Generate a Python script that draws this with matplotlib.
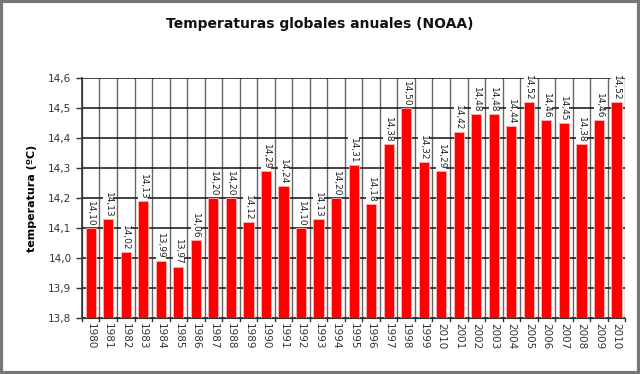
import matplotlib
matplotlib.use("Agg")
import matplotlib.pyplot as plt
from matplotlib.patches import Rectangle
import numpy as np

years = ["1980", "1981", "1982", "1983", "1984", "1985", "1986", "1987", "1988", "1989",
         "1990", "1991", "1992", "1993", "1994", "1995", "1996", "1997", "1998", "1999",
         "2010", "2001", "2002", "2003", "2004", "2005", "2006", "2007", "2008", "2009", "2010"]
temps = [14.10, 14.13, 14.02, 14.19, 13.99, 13.97, 14.06, 14.20, 14.20, 14.12,
         14.29, 14.24, 14.10, 14.13, 14.20, 14.31, 14.18, 14.38, 14.50, 14.32,
         14.29, 14.42, 14.48, 14.48, 14.44, 14.52, 14.46, 14.45, 14.38, 14.46, 14.52]
labels = ["14,10", "14,13", "14,02", "14,13", "13,99", "13,97", "14,06", "14,20", "14,20", "14,12",
          "14,29", "14,24", "14,10", "14,13", "14,20", "14,31", "14,18", "14,38", "14,50", "14,32",
          "14,29", "14,42", "14,48", "14,48", "14,44", "14,52", "14,46", "14,45", "14,38", "14,46", "14,52"]
yticks = [13.8, 13.9, 14.0, 14.1, 14.2, 14.3, 14.4, 14.5, 14.6]
ytick_labels = ["13,8", "13,9", "14,0", "14,1", "14,2", "14,3", "14,4", "14,5", "14,6"]

fig = plt.figure(figsize=(6.4, 3.74), dpi=100)
fig.patch.set_facecolor("white")
ax = fig.add_axes([0.128, 0.150, 0.849, 0.641])

x = np.arange(len(years))
ax.bar(x, [t - 13.8 for t in temps], bottom=13.8, width=0.58, color="#ff0000",
       edgecolor="#ffb0b0", linewidth=0.6, zorder=3)

for xi, t, lab in zip(x, temps, labels):
    ax.text(xi, t + 0.006, lab, rotation=-90, ha="center", va="bottom", fontsize=6.5,
            color="#222222", zorder=4, clip_on=False,
            bbox=dict(boxstyle="square,pad=0.08", facecolor="white", edgecolor="none"))

ax.set_xlim(-0.5, len(years) - 0.5)
ax.set_ylim(13.8, 14.6)
ax.set_yticks(yticks)
ax.set_yticklabels(ytick_labels, fontsize=7.5, color="#333333")
ax.set_xticks(x)
ax.set_xticklabels(years, rotation=-90, fontsize=7.5, color="#333333")
ax.tick_params(axis="x", length=0, pad=4)
ax.tick_params(axis="y", length=4, width=1, color="#333333")

# category boundary gridlines
for b in np.arange(-0.5, len(years), 1.0):
    ax.axvline(b, color="#666666", linewidth=1.0, zorder=1)
    ax.plot([b, b], [13.8, 13.8 - 0.012], color="#333333", linewidth=1, clip_on=False)
for yt in yticks:
    ax.axhline(yt, color="#222222", linewidth=1.2, zorder=1)

for s in ["top", "right"]:
    ax.spines[s].set_visible(False)
ax.spines["left"].set_color("#333333")
ax.spines["bottom"].set_color("#333333")
ax.spines["left"].set_linewidth(1.2)

ax.set_ylabel("temperatura (ºC)", fontsize=8, fontweight="bold", labelpad=8)

fig.text(0.5, 0.935, "Temperaturas globales anuales (NOAA)", ha="center", va="center",
         fontsize=10, fontweight="semibold", color="#111111")

fig.patches.append(Rectangle((0.002, 0.004), 0.996, 0.992, transform=fig.transFigure,
                             fill=False, edgecolor="#777777", linewidth=3))

fig.savefig("out.png", dpi=100)
